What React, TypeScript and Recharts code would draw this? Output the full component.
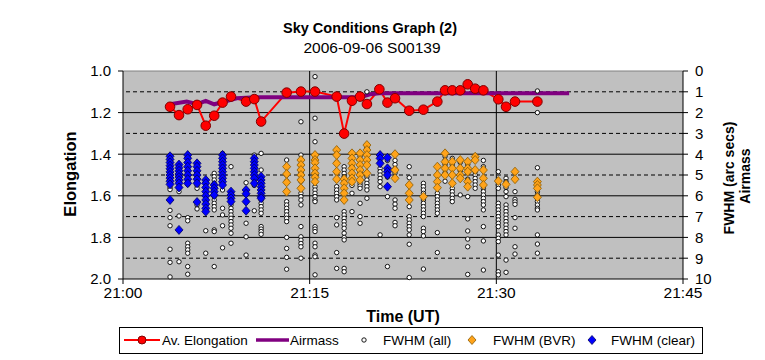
import React from "react";
import {
  ComposedChart,
  Line,
  Scatter,
  XAxis,
  YAxis,
  ReferenceLine,
  ReferenceArea,
} from "recharts";

// minutes after 21:00 UT
const elongTimes = [3.78, 4.5, 5.2, 5.95, 6.65, 7.33, 8.0, 8.68, 9.89, 10.55, 11.1, 13.15, 14.3, 15.43, 17.17, 17.77, 18.4, 19.05, 19.6, 20.6, 21.25, 21.86, 23.0, 24.14, 25.26, 25.88, 26.46, 27.1, 27.7, 28.3, 28.96, 30.16, 30.78, 31.5, 33.3];
const elongValues = [1.172, 1.212, 1.184, 1.163, 1.263, 1.215, 1.152, 1.123, 1.147, 1.135, 1.243, 1.104, 1.099, 1.099, 1.123, 1.301, 1.143, 1.123, 1.159, 1.088, 1.152, 1.131, 1.191, 1.186, 1.147, 1.093, 1.093, 1.093, 1.064, 1.085, 1.093, 1.136, 1.172, 1.147, 1.147];

const airmassTimes = [3.78, 5.12, 5.95, 6.65, 7.33, 8.33, 9.13, 9.9, 11.0, 19.05, 19.85, 20.6, 35.85];
const airmassValues = [1.6, 1.47, 1.59, 1.44, 1.6, 1.44, 1.31, 1.28, 1.26, 1.26, 1.12, 1.07, 1.07];

// FWHM columns: [time, values...]
const fwhmAll: number[][] = [
  [3.78, 4.4, 4.6, 4.8, 5.0, 5.2, 5.4, 5.6, 5.7, 6.7, 7.05, 7.44, 8.57, 9.2, 9.9],
  [4.5, 4.6, 4.8, 5.0, 5.3, 5.6, 5.8, 6.97, 9.17],
  [5.2, 4.2, 4.6, 5.0, 5.3, 5.45, 7.05, 7.2, 8.28, 8.45, 8.6, 8.76, 9.4, 9.77],
  [5.95, 4.6, 4.9, 5.2, 5.5, 5.64, 6.44, 6.63],
  [6.65, 5.4, 5.7, 6.0, 6.3, 6.6, 7.68, 8.76],
  [7.33, 4.92, 5.08, 5.24, 5.4, 5.56, 5.72, 5.88, 6.04, 6.2, 6.36, 6.52, 6.68, 7.64, 7.72, 9.4],
  [8.0, 3.96, 4.3, 4.7, 5.1, 5.4, 5.72, 6.6, 6.92, 7.44, 8.5],
  [8.68, 4.6, 5.9, 6.1, 6.44, 6.6, 6.76, 6.92, 7.08, 7.24, 7.4, 7.56, 7.8, 8.28],
  [9.89, 5.37, 5.9, 6.3, 7.32, 7.97, 8.85],
  [10.55, 4.04, 4.4, 4.8, 5.2, 5.5, 6.72],
  [11.1, 3.96, 4.76, 5.2, 5.6, 6.2, 6.36, 6.52, 6.68, 6.84, 7.48, 7.6, 7.72, 7.85],
  [13.15, 4.28, 5.0, 5.3, 6.28, 6.44, 6.6, 6.76, 6.92, 7.08, 7.24, 8.0, 8.53, 8.96, 9.53],
  [14.3, 2.44, 4.04, 4.5, 4.9, 5.3, 5.88, 6.04, 6.2, 6.44, 7.48, 7.97, 8.13, 8.29, 8.45, 9.0],
  [15.43, 0.27, 2.27, 3.4, 4.2, 4.7, 5.0, 5.56, 5.72, 5.88, 6.04, 6.2, 6.28, 7.48, 7.6, 7.72, 8.28, 8.45, 8.85, 8.93, 9.8],
  [17.17, 4.0, 4.4, 4.9, 5.56, 5.72, 5.88, 6.04, 6.2, 7.05, 7.4, 8.73, 9.49],
  [17.77, 4.6, 4.76, 4.92, 5.08, 6.76, 6.92, 7.08, 7.24, 7.4, 7.56, 7.8, 8.0, 8.12, 9.49, 9.65],
  [18.4, 4.2, 4.6, 5.0, 5.5, 5.88, 6.76],
  [19.05, 4.1, 4.5, 4.9, 5.4, 5.52, 5.64, 6.36, 7.0, 7.32],
  [19.6, 1.0, 3.7, 4.3, 5.08, 5.24, 5.4, 5.56, 5.72, 6.12],
  [20.66, 4.68, 4.84, 5.0, 5.16, 5.32, 5.56, 7.88],
  [21.25, 4.3, 4.7, 5.1, 6.04, 9.4],
  [21.86, 4.3, 4.5, 4.7, 4.9, 6.2, 6.4, 6.6, 7.28, 7.44],
  [23.0, 4.6, 5.13, 6.52, 7.0, 7.16, 7.32, 7.48, 7.64, 7.88, 8.33, 9.93],
  [24.14, 5.4, 5.56, 5.72, 5.88, 6.2, 6.36, 6.52, 6.68, 6.84, 7.0, 7.56, 7.72, 7.93, 9.52],
  [25.26, 5.88, 6.04, 6.2, 6.36, 6.52, 6.68, 6.84, 7.77, 8.73],
  [25.88, 4.1, 4.3, 4.5, 4.7, 4.9, 5.3],
  [26.46, 4.2, 4.5, 5.0, 5.64, 5.8, 5.96, 6.12, 6.28],
  [27.1, 4.4, 4.8, 5.96],
  [27.7, 4.5, 4.9, 5.2, 6.04, 7.11, 7.69, 8.08, 8.45, 9.78],
  [28.3, 4.84, 5.0, 5.16, 5.32, 5.48, 5.64],
  [28.96, 4.3, 4.6, 5.64, 5.8, 5.96, 6.12, 6.28, 6.44, 6.68, 7.48, 8.17, 9.57],
  [30.16, 4.84, 5.48, 5.64, 6.36, 6.52, 6.68, 6.84, 7.0, 7.16, 7.32, 7.48, 7.88, 8.04, 8.2, 8.85, 9.65, 9.8],
  [30.78, 5.16, 5.32, 5.6, 5.8, 6.04, 6.44, 6.6, 6.76, 6.92, 7.08, 7.24, 7.4, 7.56, 7.72, 7.88, 9.09, 9.68],
  [31.5, 5.8, 6.17, 6.29, 6.41, 7.05, 7.56, 8.45, 8.8],
  [33.3, 0.96, 2.0, 4.65, 5.8, 5.96, 6.12, 6.28, 6.44, 6.6, 6.68, 7.88, 8.32, 8.76],
];

const fwhmBVR: number[][] = [
  [13.15, 4.6, 4.95, 5.35, 5.8],
  [14.3, 4.28, 4.52, 4.76, 5.0, 5.24, 5.64],
  [15.43, 4.04, 4.28, 4.41, 4.68, 4.92, 5.11, 5.32],
  [17.17, 3.8, 4.04, 4.44, 4.84, 5.2],
  [17.77, 5.2, 5.4, 5.64, 5.88, 6.2],
  [18.4, 3.96, 4.2, 4.44, 4.68, 4.92, 5.16, 5.32],
  [19.05, 3.96, 4.28, 4.52, 4.76, 5.0, 5.24],
  [19.6, 3.56, 3.8, 4.04, 4.28, 4.52, 4.92],
  [21.86, 4.0, 4.76, 5.16],
  [23.0, 5.48, 5.88, 6.2],
  [24.14, 6.04],
  [25.26, 4.6, 5.0, 5.32, 5.61],
  [25.88, 3.96, 4.36, 4.68, 5.0],
  [26.46, 4.36, 4.68, 5.0, 5.4],
  [27.1, 4.28, 4.68, 5.0, 5.16],
  [27.7, 4.36, 4.68, 4.84, 5.32, 5.56],
  [28.3, 4.12, 4.28, 4.76],
  [28.96, 4.76, 5.16, 5.48],
  [30.16, 5.29],
  [30.78, 5.45],
  [31.5, 4.84, 5.2],
  [33.3, 5.32, 5.48, 5.64, 6.07],
];

const fwhmClear: number[][] = [
  [3.78, 4.1, 4.25, 4.4, 4.55, 4.7, 4.85, 5.0, 5.15, 5.3, 5.45, 6.2],
  [4.5, 4.5, 4.65, 4.8, 4.95, 5.1, 5.25, 5.4, 5.6, 7.64],
  [5.2, 4.04, 4.2, 4.4, 4.6, 4.8, 5.0, 5.2, 5.4],
  [5.95, 4.44, 4.6, 4.8, 5.0, 5.2, 5.4, 6.3],
  [6.65, 5.24, 5.4, 5.6, 5.8, 6.0, 6.2, 6.4, 6.6, 6.76],
  [7.33, 5.48, 5.64, 5.8, 5.96],
  [8.0, 4.04, 4.2, 4.36, 4.52, 4.68, 4.84, 5.0, 5.16, 5.32, 5.48],
  [8.68, 5.8, 5.96, 6.12, 6.28],
  [9.89, 5.72, 5.9, 6.28, 6.72],
  [10.55, 4.2, 4.36, 4.52, 4.68, 4.84, 5.0, 5.16, 5.4],
  [11.1, 5.08, 5.24, 5.4, 5.56, 5.72, 5.88, 6.04, 6.12],
  [20.66, 4.04, 4.2, 4.44],
  [21.25, 4.17, 4.68, 4.84, 5.0, 5.56],
];

const xTicks = [0, 15, 30, 45];
const leftTicks = [1.0, 1.2, 1.4, 1.6, 1.8, 2.0];
const rightTicks = [0, 1, 2, 3, 4, 5, 6, 7, 8, 9, 10];

const flatten = (cols: number[][]) =>
  cols.flatMap(([t, ...vs]) => vs.map((v) => ({ t, v })));

const elongData = elongTimes.map((t, i) => ({ t, e: elongValues[i] }));
const airmassData = airmassTimes.map((t, i) => ({ t, a: airmassValues[i] }));
const allData = flatten(fwhmAll);
const bvrData = flatten(fwhmBVR);
const clearData = flatten(fwhmClear);

const FONT = "'Liberation Sans', Arial, sans-serif";

const WhiteDot = (p: any) => (
  <circle cx={p.cx} cy={p.cy} r={2.2} fill="#fff" stroke="#000" strokeWidth={0.9} />
);
const diamond = (fill: string, stroke: string) => (p: any) => (
  <polygon
    points={`${p.cx},${p.cy - 4.5} ${p.cx + 4},${p.cy} ${p.cx},${p.cy + 4.5} ${p.cx - 4},${p.cy}`}
    fill={fill}
    stroke={stroke}
    strokeWidth={0.8}
  />
);
const OrangeDiamond = diamond("#FFA31A", "#8a5a00");
const BlueDiamond = diamond("#0000FF", "#000060");

const fmtTime = (m: number) => `21:${String(m).padStart(2, "0")}`;

export default function App() {
  return (
    <div style={{ position: "absolute", left: 0, top: 0, width: 765, height: 360, background: "#fff", fontFamily: FONT }}>
      <ComposedChart width={765} height={360} margin={{ top: 71, right: 22, bottom: 51, left: 63 }}>
        <XAxis
          type="number"
          dataKey="t"
          domain={[0, 45]}
          ticks={xTicks}
          interval={0}
          tickFormatter={fmtTime}
          height={30}
          stroke="#000"
          tickSize={5}
          tickMargin={3}
          tick={{ fill: "#000", fontSize: 15.5, fontFamily: FONT }}
          allowDataOverflow
        />
        <YAxis
          yAxisId="left"
          type="number"
          domain={[1, 2]}
          reversed
          ticks={leftTicks}
          interval={0}
          tickFormatter={(v: number) => v.toFixed(1)}
          width={60}
          stroke="#000"
          tickSize={5}
          tickMargin={7}
          tick={{ fill: "#000", fontSize: 15, fontFamily: FONT }}
        />
        <YAxis
          yAxisId="right"
          orientation="right"
          type="number"
          domain={[0, 10]}
          reversed
          ticks={rightTicks}
          interval={0}
          width={60}
          stroke="#000"
          tickSize={5}
          tickMargin={7}
          tick={{ fill: "#000", fontSize: 15, fontFamily: FONT, textAnchor: "start" }}
        />
        <ReferenceArea yAxisId="right" x1={0} x2={45} y1={0} y2={10} fill="#C0C0C0" fillOpacity={1} stroke="none" />
        <ReferenceLine yAxisId="right" y={0} stroke="#808080" />
        {[1, 3, 5, 7, 9].map((v) => (
          <ReferenceLine key={`d${v}`} yAxisId="right" y={v} stroke="#000" strokeDasharray="4 3" />
        ))}
        {[2, 4, 6, 8].map((v) => (
          <ReferenceLine key={`s${v}`} yAxisId="right" y={v} stroke="#000" />
        ))}
        {[15, 30].map((x) => (
          <ReferenceLine key={`x${x}`} yAxisId="right" x={x} stroke="#000" />
        ))}
        <Scatter yAxisId="right" data={allData} dataKey="v" shape={WhiteDot} isAnimationActive={false} />
        <Scatter yAxisId="right" data={bvrData} dataKey="v" shape={OrangeDiamond} isAnimationActive={false} />
        <Scatter yAxisId="right" data={clearData} dataKey="v" shape={BlueDiamond} isAnimationActive={false} />
        <Line
          yAxisId="left"
          data={elongData}
          dataKey="e"
          stroke="#FF0000"
          strokeWidth={2}
          dot={{ r: 4.8, fill: "#FF0000", stroke: "#800000", strokeWidth: 1 }}
          isAnimationActive={false}
        />
        <Line
          yAxisId="right"
          data={airmassData}
          dataKey="a"
          stroke="#800080"
          strokeWidth={4}
          dot={false}
          isAnimationActive={false}
        />
      </ComposedChart>
      <svg width={765} height={360} style={{ position: "absolute", left: 0, top: 0, pointerEvents: "none" }} fontFamily={FONT}>
        <text x={370} y={33} textAnchor="middle" fontSize={14.5} fontWeight="bold">Sky Conditions Graph (2)</text>
        <text x={372} y={53} textAnchor="middle" fontSize={15.5}>2006-09-06 S00139</text>
        <text x={403} y={322} textAnchor="middle" fontSize={16} fontWeight="bold">Time (UT)</text>
        <text transform="translate(76,174) rotate(-90)" textAnchor="middle" fontSize={16.5} fontWeight="bold">Elongation</text>
        <text transform="translate(734,178) rotate(-90)" textAnchor="middle" fontSize={14} fontWeight="bold">FWHM (arc secs)</text>
        <text transform="translate(750,176) rotate(-90)" textAnchor="middle" fontSize={14} fontWeight="bold">Airmass</text>
        <rect x={119.5} y={327.5} width={583} height={26} fill="#fff" stroke="#000" />
        <line x1={124} y1={340} x2={160} y2={340} stroke="#FF0000" strokeWidth={2} />
        <circle cx={142} cy={340} r={4} fill="#FF0000" stroke="#800000" />
        <text x={162} y={345} fontSize={13.5}>Av. Elongation</text>
        <line x1={256} y1={340} x2={289} y2={340} stroke="#800080" strokeWidth={3.5} />
        <text x={290} y={345} fontSize={13.5}>Airmass</text>
        <WhiteDot cx={364} cy={340} />
        <text x={383} y={345} fontSize={13.5}>FWHM (all)</text>
        <OrangeDiamond cx={472} cy={340} />
        <text x={493} y={345} fontSize={13.5}>FWHM (BVR)</text>
        <BlueDiamond cx={592} cy={340} />
        <text x={611} y={345} fontSize={13.5}>FWHM (clear)</text>
      </svg>
    </div>
  );
}
